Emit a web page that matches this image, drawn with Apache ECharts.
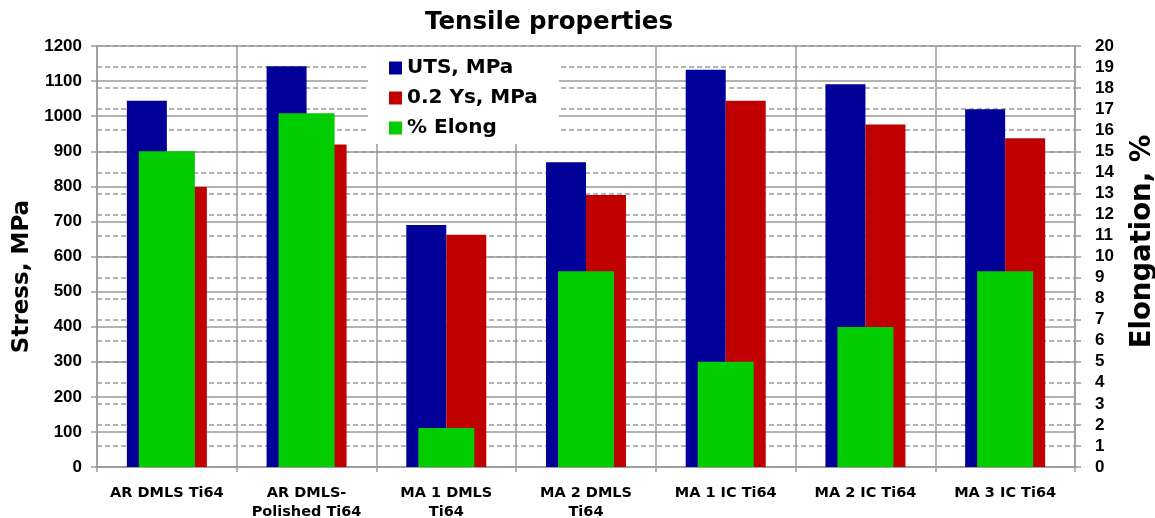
<!DOCTYPE html>
<html>
<head>
<meta charset="utf-8">
<title>Tensile properties</title>
<script src="https://cdn.jsdelivr.net/npm/echarts@6/dist/echarts.min.js"></script>
<style>
  html, body { margin: 0; padding: 0; background: #fff; }
  #chart { width: 1155px; height: 518px; }
</style>
</head>
<body>
<div id="chart"></div>
<script>
// Specimen groups
const categories = [
  'AR DMLS Ti64',
  'AR DMLS-\nPolished Ti64',
  'MA 1 DMLS\nTi64',
  'MA 2 DMLS\nTi64',
  'MA 1 IC Ti64',
  'MA 2 IC Ti64',
  'MA 3 IC Ti64'
];

// Ultimate tensile strength, MPa
const utsMPa = [1044, 1142, 690, 869, 1132, 1091, 1020];
// 0.2% offset yield strength, MPa
const ysMPa = [798, 919, 662, 775, 1044, 976, 937];
// Elongation at break, %
const elongPct = [15.0, 16.8, 1.85, 9.3, 5.0, 6.65, 9.3];

const WIDE = "'DejaVu Sans', sans-serif";
const NARROW = "'Liberation Sans', Arial, sans-serif";
const GRID_GRAY = '#9a9a9a';

const chart = echarts.init(document.getElementById('chart'), null, { renderer: 'canvas' });

chart.setOption({
  backgroundColor: '#ffffff',
  animation: false,
  title: {
    text: 'Tensile properties',
    left: 425,
    top: 10,
    padding: 0,
    textStyle: { fontFamily: WIDE, fontSize: 24.5, fontWeight: 'bold', color: '#000' }
  },
  legend: {
    orient: 'vertical',
    left: 368,
    top: 47,
    padding: [10, 21, 5, 21],
    backgroundColor: '#ffffff',
    itemWidth: 13,
    itemHeight: 13,
    itemGap: 8,
    icon: 'rect',
    textStyle: { fontFamily: WIDE, fontSize: 20, fontWeight: 'bold', color: '#000', lineHeight: 22 },
    data: ['UTS, MPa', '0.2 Ys, MPa', '% Elong'],
    z: 10
  },
  grid: { left: 97, right: 80, top: 46, bottom: 51, containLabel: false, outerBoundsMode: 'none' },
  xAxis: [
    {
      type: 'category',
      data: categories,
      axisLine: { show: true, lineStyle: { color: GRID_GRAY, width: 1.5 } },
      axisTick: { show: true, length: 5, alignWithLabel: false, lineStyle: { color: GRID_GRAY, width: 1.5 } },
      splitLine: { show: true, lineStyle: { color: GRID_GRAY, width: 1.5 } },
      axisLabel: {
        interval: 0,
        margin: 16,
        fontFamily: WIDE, fontSize: 14.5, fontWeight: 'bold', color: '#000', lineHeight: 19.5
      }
    },
    {
      type: 'category',
      data: categories,
      show: false
    }
  ],
  yAxis: [
    {
      type: 'value',
      min: 0, max: 1200, interval: 100,
      name: 'Stress, MPa',
      nameLocation: 'middle',
      nameRotate: 90,
      nameGap: 58,
      nameTextStyle: { fontFamily: WIDE, fontSize: 23, fontWeight: 'bold', color: '#000', padding: [0, 40, 0, 0] },
      axisLine: { show: true, lineStyle: { color: GRID_GRAY, width: 1.5 } },
      axisTick: { show: true, length: 6, lineStyle: { color: GRID_GRAY, width: 1.5 } },
      splitLine: { show: true, lineStyle: { color: GRID_GRAY, width: 1.5 } },
      axisLabel: {
        margin: 15, fontFamily: NARROW, fontSize: 17, fontWeight: 'bold', color: '#000',
        formatter: v => String(v)
      }
    },
    {
      type: 'value',
      min: 0, max: 20, interval: 1,
      name: 'Elongation, %',
      nameLocation: 'middle',
      nameRotate: 90,
      nameGap: 54,
      nameTextStyle: { fontFamily: WIDE, fontSize: 27.5, fontWeight: 'bold', color: '#000', padding: [0, 0, 0, 30] },
      axisLine: { show: true, lineStyle: { color: GRID_GRAY, width: 1.5 } },
      axisTick: { show: true, length: 6, lineStyle: { color: GRID_GRAY, width: 1.5 } },
      splitLine: { show: true, lineStyle: { color: GRID_GRAY, width: 1.5, type: [5, 3] } },
      axisLabel: { margin: 20, fontFamily: NARROW, fontSize: 17, fontWeight: 'bold', color: '#000' }
    }
  ],
  series: [
    {
      name: 'UTS, MPa',
      type: 'bar',
      xAxisIndex: 0, yAxisIndex: 0,
      data: utsMPa,
      barWidth: 40,
      barGap: '0%',
      itemStyle: { color: '#000099' }
    },
    {
      name: '0.2 Ys, MPa',
      type: 'bar',
      xAxisIndex: 0, yAxisIndex: 0,
      data: ysMPa,
      barWidth: 40,
      barGap: '0%',
      itemStyle: { color: '#C00000' }
    },
    {
      name: '% Elong',
      type: 'bar',
      xAxisIndex: 1, yAxisIndex: 1,
      data: elongPct,
      barWidth: 56,
      z: 3,
      itemStyle: { color: '#00CC00' }
    }
  ]
});
</script>
</body>
</html>
